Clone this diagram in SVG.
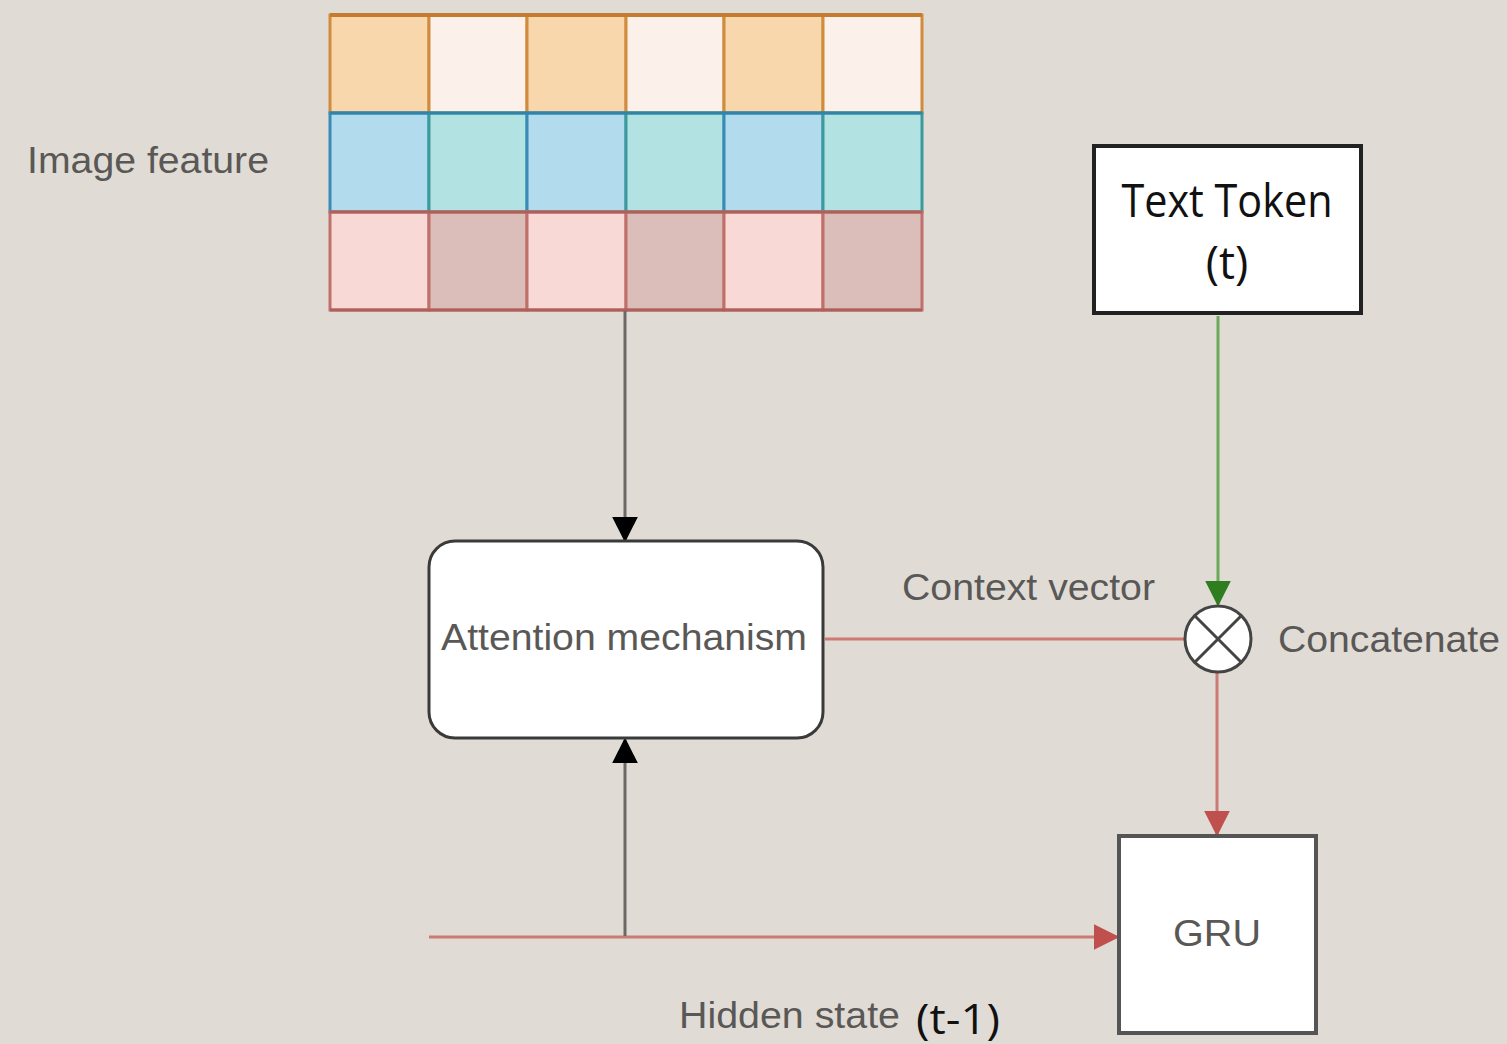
<svg xmlns="http://www.w3.org/2000/svg" width="1507" height="1044" viewBox="0 0 1507 1044">
  <style>
    .lbl { font-family: "Liberation Sans", Arial, sans-serif; fill: #5a5856; font-size: 36px; }
    .dark { font-family: "Open Sans", "Liberation Sans", sans-serif; fill: #111; }
    .cell { stroke-width: 3; }
    .o1 { fill: #f8d7ad; stroke: #d08c3c; }
    .o2 { fill: #fbf1ea; stroke: #d08c3c; }
    .b1 { fill: #b3dbee; stroke: #3a8ab8; }
    .b2 { fill: #b3e2e3; stroke: #3a9a9c; }
    .r1 { fill: #f8d9d6; stroke: #c0706a; }
    .r2 { fill: #dbbdba; stroke: #c0706a; }
    .gray { stroke: #6a6966; stroke-width: 3; fill: none; }
    .red { stroke: #cc7a74; stroke-width: 3; fill: none; }
  </style>
  <defs>
    <marker id="arrGreen" viewBox="0 0 10 10" refX="9" refY="5" markerWidth="26" markerHeight="26" orient="auto" markerUnits="userSpaceOnUse">
      <path d="M0,0 L10,5 L0,10 z" fill="#2e7d1f"/>
    </marker>
    <marker id="arrRed" viewBox="0 0 10 10" refX="9" refY="5" markerWidth="26" markerHeight="26" orient="auto" markerUnits="userSpaceOnUse">
      <path d="M0,0 L10,5 L0,10 z" fill="#c0504d"/>
    </marker>
    <marker id="arrDark" viewBox="0 0 10 10" refX="9" refY="5" markerWidth="26" markerHeight="26" orient="auto" markerUnits="userSpaceOnUse">
      <path d="M0,0 L10,5 L0,10 z" fill="#000"/>
    </marker>
  </defs>

  <rect width="1507" height="1044" fill="#e0dcd5"/>

  <!-- image feature grid: three rows of six cells -->
  <g id="image-feature">
    <rect class="cell o1" x="330" y="15" width="99" height="98"/>
    <rect class="cell o2" x="429" y="15" width="98" height="98"/>
    <rect class="cell o1" x="527" y="15" width="99" height="98"/>
    <rect class="cell o2" x="626" y="15" width="98" height="98"/>
    <rect class="cell o1" x="724" y="15" width="99" height="98"/>
    <rect class="cell o2" x="823" y="15" width="99" height="98"/>
    <rect class="cell b1" x="330" y="113" width="99" height="99"/>
    <rect class="cell b2" x="429" y="113" width="98" height="99"/>
    <rect class="cell b1" x="527" y="113" width="99" height="99"/>
    <rect class="cell b2" x="626" y="113" width="98" height="99"/>
    <rect class="cell b1" x="724" y="113" width="99" height="99"/>
    <rect class="cell b2" x="823" y="113" width="99" height="99"/>
    <rect class="cell r1" x="330" y="212" width="99" height="98"/>
    <rect class="cell r2" x="429" y="212" width="98" height="98"/>
    <rect class="cell r1" x="527" y="212" width="99" height="98"/>
    <rect class="cell r2" x="626" y="212" width="98" height="98"/>
    <rect class="cell r1" x="724" y="212" width="99" height="98"/>
    <rect class="cell r2" x="823" y="212" width="99" height="98"/>
    <line x1="330" y1="15" x2="922" y2="15" stroke="#c47c2e" stroke-width="4"/>
    <line x1="330" y1="113" x2="922" y2="113" stroke="#2f84a8" stroke-width="3"/>
    <line x1="330" y1="212" x2="922" y2="212" stroke="#b0605a" stroke-width="3"/>
    <line x1="330" y1="310" x2="922" y2="310" stroke="#b0605a" stroke-width="3"/>
  </g>
  <g id="image-feature-label">
    <text class="lbl" x="27" y="173" textLength="242" lengthAdjust="spacingAndGlyphs">Image feature</text>
  </g>

  <!-- connectors -->
  <g id="connectors">
    <line class="gray" x1="625" y1="311" x2="625" y2="540" marker-end="url(#arrDark)"/>
    <line class="red" x1="429" y1="937" x2="1117" y2="937" stroke-width="4" stroke="#d49490" marker-end="url(#arrRed)"/>
    <line class="gray" x1="625" y1="936" x2="625" y2="740" marker-end="url(#arrDark)"/>
    <line class="red" x1="825" y1="639" x2="1184" y2="639"/>
    <line x1="1218" y1="316" x2="1218" y2="604" stroke="#6aa85a" stroke-width="3" marker-end="url(#arrGreen)"/>
    <line class="red" x1="1217" y1="673" x2="1217" y2="834" stroke="#d09590" marker-end="url(#arrRed)"/>
  </g>

  <g id="attention">
    <rect x="429" y="541" width="394" height="197" rx="26" ry="26" fill="#fff" stroke="#3a3a3a" stroke-width="3"/>
    <text class="lbl" x="441" y="650" textLength="366" lengthAdjust="spacingAndGlyphs">Attention mechanism</text>
  </g>

  <g id="context-vector-label">
    <text class="lbl" x="902" y="600" textLength="253" lengthAdjust="spacingAndGlyphs">Context vector</text>
  </g>

  <g id="text-token">
    <rect x="1094" y="146" width="267" height="167" fill="#fff" stroke="#222" stroke-width="4"/>
    <text class="dark" x="1227" y="217" font-size="45" text-anchor="middle" textLength="211" lengthAdjust="spacingAndGlyphs">Text Token</text>
    <text class="dark" x="1227" y="279" font-size="45" text-anchor="middle">(t)</text>
  </g>

  <g id="concatenate">
    <circle cx="1218" cy="639" r="33" fill="#fff" stroke="#444" stroke-width="3"/>
    <line x1="1195" y1="616" x2="1241" y2="662" stroke="#444" stroke-width="3"/>
    <line x1="1241" y1="616" x2="1195" y2="662" stroke="#444" stroke-width="3"/>
    <text class="lbl" x="1278" y="652" textLength="222" lengthAdjust="spacingAndGlyphs">Concatenate</text>
  </g>

  <g id="gru">
    <rect x="1119" y="836" width="197" height="197" fill="#fff" stroke="#555" stroke-width="4"/>
    <text class="lbl" x="1217" y="946" text-anchor="middle" textLength="88" lengthAdjust="spacingAndGlyphs">GRU</text>
  </g>

  <g id="hidden-state-label">
    <text class="lbl" x="679" y="1028" textLength="221" lengthAdjust="spacingAndGlyphs">Hidden state</text>
    <text class="dark" x="916" y="1034" font-size="42" textLength="84" lengthAdjust="spacingAndGlyphs">(t-1)</text>
  </g>
</svg>
